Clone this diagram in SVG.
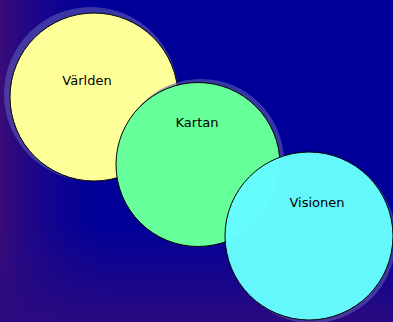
<svg xmlns="http://www.w3.org/2000/svg" width="393" height="322" viewBox="0 0 393 322">
<defs>
<linearGradient id="gl" x1="0" y1="0" x2="1" y2="0">
<stop offset="0" stop-color="#3a0c78"/>
<stop offset="0.3" stop-color="#000099" stop-opacity="0"/>
</linearGradient>
<linearGradient id="gb" x1="0" y1="0" x2="0" y2="1">
<stop offset="0.7" stop-color="#2a0a80" stop-opacity="0"/>
<stop offset="1" stop-color="#2a0a80"/>
</linearGradient>
<style>
.halo{fill:#5a5ab4;fill-opacity:0.6}
.c{stroke:#000;stroke-width:1}
.t{font-family:"Comic Sans MS","DejaVu Sans",sans-serif;font-size:13px;fill:#000;text-anchor:middle}
</style>
</defs>
<rect width="393" height="322" fill="#000099"/>
<rect width="393" height="322" fill="url(#gl)"/>
<rect width="393" height="322" fill="url(#gb)"/>
<g id="varlden">
<circle class="halo" cx="91" cy="94" r="87"/>
<circle class="c" cx="94" cy="97" r="84" fill="#ffff99"/>
<text class="t" x="87" y="85">Världen</text>
</g>
<g id="kartan">
<circle class="halo" cx="201" cy="162" r="83"/>
<circle class="c" cx="198" cy="164.5" r="82" fill="#66ff99"/>
<text class="t" x="197" y="127">Kartan</text>
</g>
<g id="visionen">
<circle class="halo" cx="312" cy="239" r="84"/>
<circle class="c" cx="309" cy="236" r="84" fill="#66ffff" fill-opacity="0.96"/>
<text class="t" x="317" y="207">Visionen</text>
</g>
<g id="connectors"/>
</svg>
